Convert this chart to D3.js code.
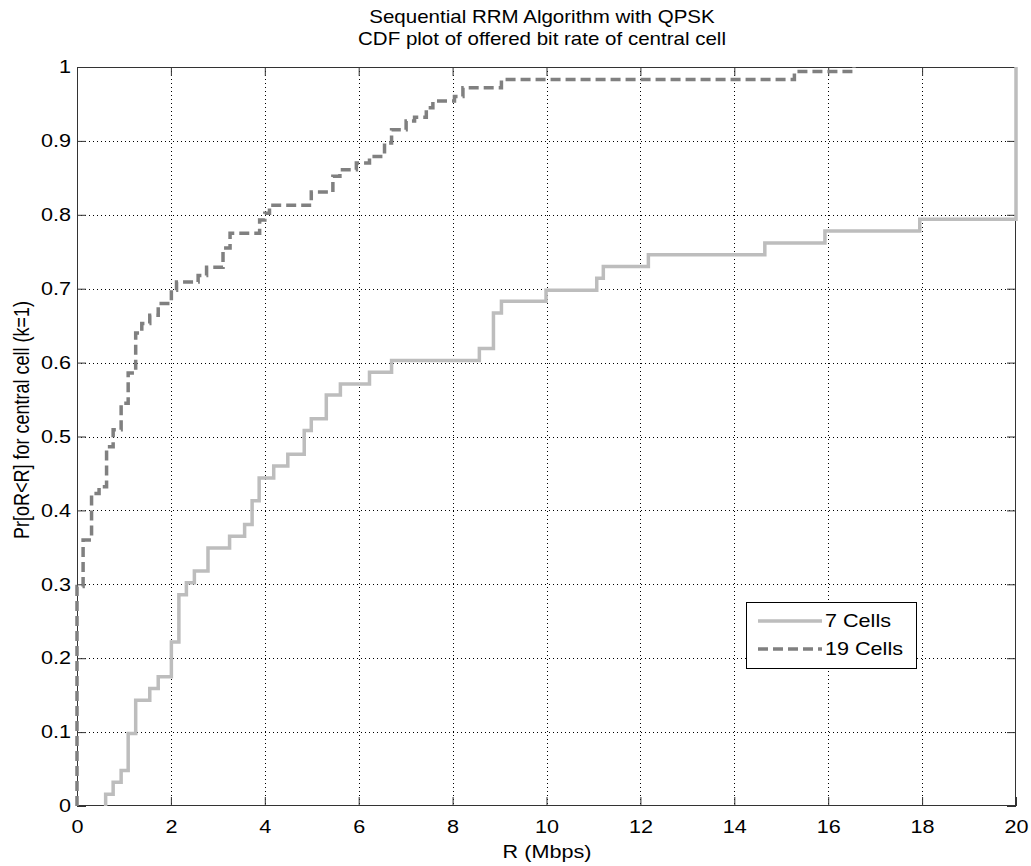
<!DOCTYPE html>
<html>
<head>
<meta charset="utf-8">
<script src="https://cdn.jsdelivr.net/npm/d3@7"></script>
<style>
  body { margin: 0; background: #fff; }
  text { font-family: "Liberation Sans", Arial, sans-serif; fill: #000; }
</style>
</head>
<body>
<script>
'use strict';

// chart data
const titleLines = ["Sequential RRM Algorithm with QPSK", "CDF plot of offered bit rate of central cell"];
const xLabel = "R (Mbps)";
const yLabel = "Pr[oR<R] for central cell (k=1)";
const xTicks = [0, 2, 4, 6, 8, 10, 12, 14, 16, 18, 20];
const yTicks = [0, 0.1, 0.2, 0.3, 0.4, 0.5, 0.6, 0.7, 0.8, 0.9, 1];
const yTickLabels = ["0", "0.1", "0.2", "0.3", "0.4", "0.5", "0.6", "0.7", "0.8", "0.9", "1"];
const seriesNames = ["7 Cells", "19 Cells"];

// 7 cells: step positions (x) and CDF value after each step (y)
const cells7X = [0.61, 0.61, 0.77, 0.94, 1.09, 1.25, 1.55, 1.73, 2.01, 2.17, 2.33, 2.50, 2.79, 3.25, 3.57, 3.73,
  3.88, 4.19, 4.49, 4.84, 4.99, 5.31, 5.61, 6.23, 6.70, 8.57, 8.87, 9.04, 9.99, 11.07, 11.21, 12.17,
  14.65, 15.93, 17.95, 20];
const cells7Y = [0, 0.016, 0.032, 0.048, 0.098, 0.143, 0.159, 0.175, 0.222, 0.286, 0.302, 0.318, 0.349, 0.365, 0.381, 0.413,
  0.444, 0.460, 0.476, 0.508, 0.524, 0.556, 0.571, 0.587, 0.603, 0.619, 0.667, 0.683, 0.698, 0.714, 0.730, 0.746,
  0.762, 0.778, 0.794, 1];

// 19 cells
const cells19X = [0, 0, 0.13, 0.31, 0.47, 0.63, 0.77, 0.94, 1.09, 1.25, 1.38, 1.55, 1.73, 2.01, 2.12, 2.58, 2.76,
  3.11, 3.26, 3.89, 4.00, 4.10, 4.99, 5.45, 5.60, 5.95, 6.23, 6.55, 6.70, 7.01, 7.19, 7.44, 7.58,
  8.04, 8.22, 9.04, 15.28, 16.55];
const cells19Y = [0, 0.297, 0.360, 0.423, 0.432, 0.486, 0.509, 0.545, 0.586, 0.640, 0.653, 0.664, 0.680, 0.698, 0.709, 0.718, 0.729,
  0.755, 0.775, 0.793, 0.802, 0.813, 0.831, 0.852, 0.861, 0.870, 0.879, 0.897, 0.915, 0.927, 0.932, 0.945, 0.954,
  0.960, 0.972, 0.983, 0.994, 1];

const plot = { left: 77, right: 1016, top: 67, bottom: 806 };
const stretch = 1.2; // the reference lettering is wide for its height

const svg = d3.select('body').append('svg')
  .attr('width', 1031)
  .attr('height', 866);

const xScale = d3.scaleLinear().domain([0, 20]).range([plot.left, plot.right]);
const yScale = d3.scaleLinear().domain([0, 1]).range([plot.bottom, plot.top]);

// dotted grid
const grid = svg.append('g').attr('stroke', '#000').attr('stroke-width', 1).attr('stroke-dasharray', '1,3');
grid.selectAll('.vgrid')
  .data(xTicks.slice(1, -1))
  .enter().append('line')
  .attr('x1', d => Math.round(xScale(d)) + 0.5).attr('x2', d => Math.round(xScale(d)) + 0.5)
  .attr('y1', plot.top).attr('y2', plot.bottom);
grid.selectAll('.hgrid')
  .data(yTicks.slice(1, -1))
  .enter().append('line')
  .attr('y1', d => Math.round(yScale(d)) + 0.5).attr('y2', d => Math.round(yScale(d)) + 0.5)
  .attr('x1', plot.left).attr('x2', plot.right);

// axes with inward ticks on all four sides
function styleAxis(g) {
  g.select('.domain').remove();
  g.selectAll('line').attr('stroke', '#333');
  g.selectAll('text')
    .style('font-size', '18px')
    .attr('font-family', '"Liberation Sans", Arial, sans-serif')
    .each(function() {
      const x = +this.getAttribute('x') || 0;
      this.setAttribute('x', x / stretch);
      this.setAttribute('transform', `scale(${stretch},1)`);
    });
}
svg.append('g')
  .attr('transform', `translate(0, ${plot.bottom})`)
  .call(d3.axisBottom(xScale).tickValues(xTicks).tickFormat(d3.format('d')).tickSize(-9).tickPadding(14))
  .call(styleAxis);
svg.append('g')
  .attr('transform', `translate(0, ${plot.top})`)
  .call(d3.axisTop(xScale).tickValues(xTicks).tickFormat('').tickSize(-9))
  .call(styleAxis);
svg.append('g')
  .attr('transform', `translate(${plot.left}, 0)`)
  .call(d3.axisLeft(yScale).tickValues(yTicks).tickFormat((d, i) => yTickLabels[i]).tickSize(-9).tickPadding(6))
  .call(styleAxis);
svg.append('g')
  .attr('transform', `translate(${plot.right}, 0)`)
  .call(d3.axisRight(yScale).tickValues(yTicks).tickFormat('').tickSize(-9))
  .call(styleAxis);

svg.append('rect')
  .attr('x', plot.left + 0.5).attr('y', plot.top + 0.5)
  .attr('width', plot.right - plot.left - 1).attr('height', plot.bottom - plot.top - 1)
  .attr('fill', 'none').attr('stroke', '#333').attr('stroke-width', 1);

// CDF step lines
const stepLine = d3.line()
  .x(d => xScale(d[0]))
  .y(d => yScale(d[1]))
  .curve(d3.curveStepAfter);

svg.append('path')
  .datum(d3.zip(cells7X, cells7Y))
  .attr('fill', 'none')
  .attr('stroke', '#bdbdbd')
  .attr('stroke-width', 3.5)
  .attr('d', stepLine);

svg.append('path')
  .datum(d3.zip(cells19X, cells19Y))
  .attr('fill', 'none')
  .attr('stroke', '#808080')
  .attr('stroke-width', 3.5)
  .attr('stroke-dasharray', '10,5')
  .attr('d', stepLine);

// titles and labels, stretched sideways like the reference lettering
function wideText(x, y, size, sx, str) {
  return svg.append('text')
    .attr('transform', `translate(${x}, ${y}) scale(${sx},1)`)
    .attr('text-anchor', 'middle')
    .style('font-size', size + 'px')
    .text(str);
}
wideText(542, 23, 18, 1.14, titleLines[0]);
wideText(542, 45, 18, 1.14, titleLines[1]);
wideText(547, 858, 18, stretch, xLabel);

svg.append('text')
  .attr('transform', `translate(29, 420)rotate(-90)scale(1,${stretch})`)
  .attr('text-anchor', 'middle')
  .style('font-size', '18px')
  .text(yLabel);

// legend
const legend = svg.append('g').attr('transform', 'translate(746, 602)');
legend.append('rect')
  .attr('x', 0.5).attr('y', 0.5)
  .attr('width', 170).attr('height', 66)
  .attr('fill', '#fff').attr('stroke', '#000');
const legendStyles = [
  { color: '#bdbdbd', dash: null },
  { color: '#808080', dash: '10,5' }
];
seriesNames.forEach((name, i) => {
  legend.append('line')
    .attr('x1', 12).attr('x2', 76)
    .attr('y1', 19 + i * 28).attr('y2', 19 + i * 28)
    .attr('stroke', legendStyles[i].color)
    .attr('stroke-width', 3.5)
    .attr('stroke-dasharray', legendStyles[i].dash);
  legend.append('text')
    .attr('transform', `translate(79, ${19 + i * 28}) scale(${stretch},1)`)
    .attr('dy', '0.35em')
    .style('font-size', '18px')
    .text(name);
});
</script>
</body>
</html>
